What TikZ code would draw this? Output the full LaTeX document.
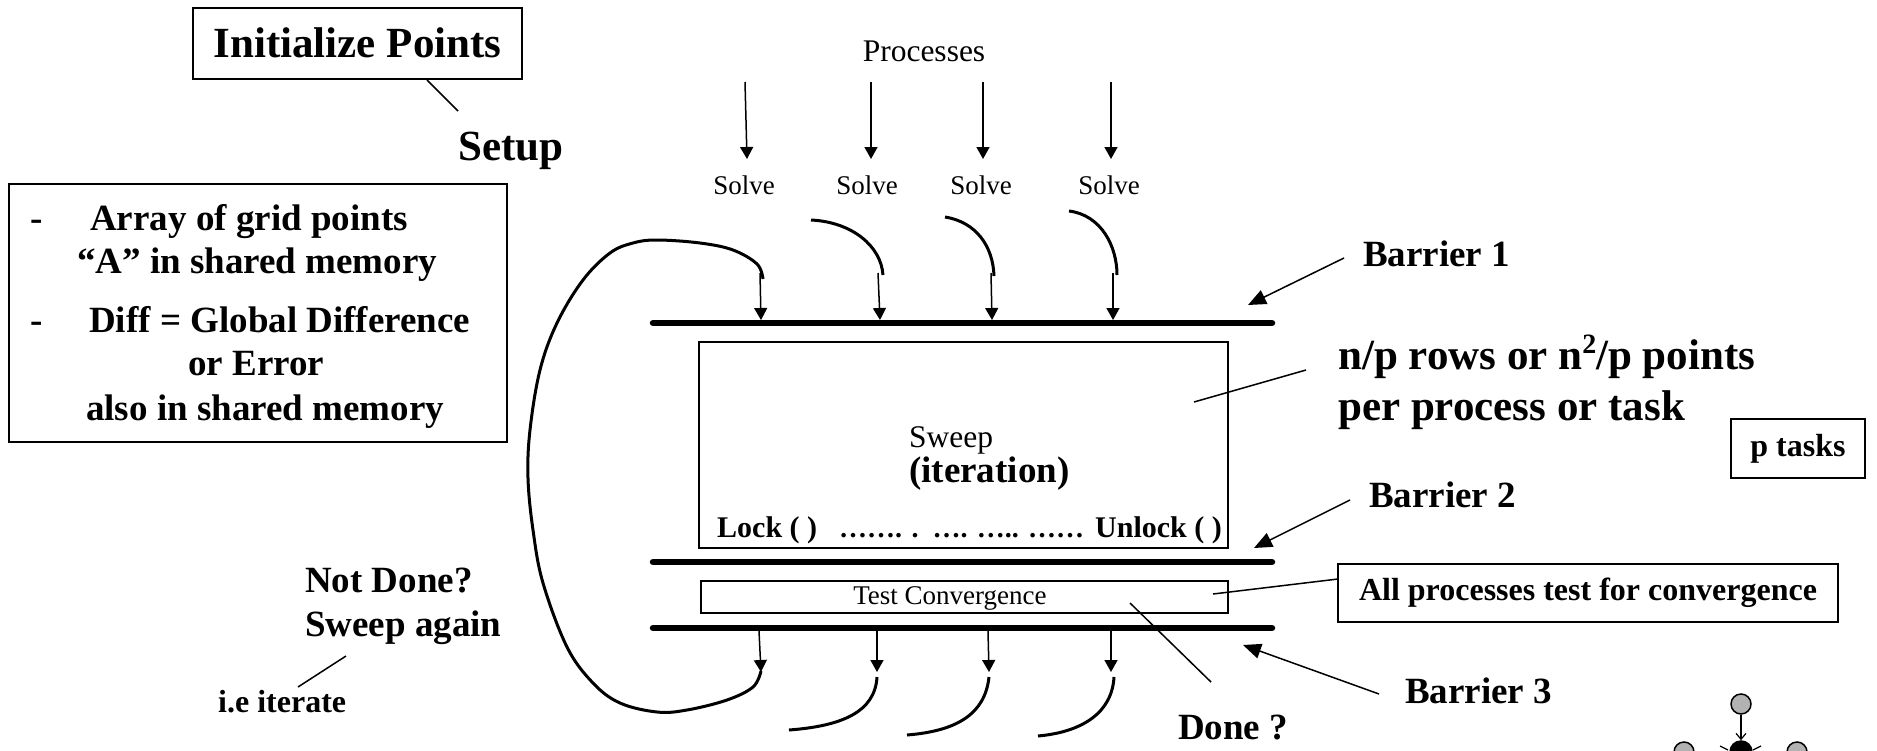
\documentclass[tikz,border=0pt]{standalone}
\usepackage{fontspec}
\setmainfont{Liberation Serif}
\usetikzlibrary{arrows.meta}
\definecolor{nodegray}{RGB}{178,178,178}
\begin{document}
\begin{tikzpicture}[x=1pt,y=-1pt,
  bigb/.style={font=\fontsize{43pt}{50pt}\selectfont\bfseries, inner sep=0pt},
  medb/.style={font=\fontsize{37pt}{44pt}\selectfont\bfseries, inner sep=0pt},
  smb/.style={font=\fontsize{32pt}{38pt}\selectfont\bfseries, inner sep=0pt},
  lockb/.style={font=\fontsize{30pt}{36pt}\selectfont\bfseries, inner sep=0pt},
  dotsb/.style={font=\fontsize{28pt}{34pt}\selectfont\bfseries, inner sep=0pt},
  regl/.style={font=\fontsize{31.5pt}{36pt}\selectfont, inner sep=0pt},
  regs/.style={font=\fontsize{27pt}{32pt}\selectfont, inner sep=0pt},
  boxd/.style={draw, line width=1.6pt, inner sep=0pt},
  thinl/.style={line width=1.5pt},
  arr/.style={line width=1.5pt, -{Triangle[length=12pt,width=13pt]}},
  bigarr/.style={line width=1.5pt, -{Triangle[length=18pt,width=15pt]}},
  hookl/.style={line width=3pt},
  barrier/.style={line width=6.5pt, line cap=round},
  dot/.style={circle, draw, line width=1.5pt, minimum size=20pt, inner sep=0pt}
]
\useasboundingbox (0,0) rectangle (1877,750);
\clip (0,0) rectangle (1877,750);

% ---------- top left ----------
\node[boxd, bigb, minimum width=329pt, minimum height=71pt, text height=28.5pt, text depth=0pt] (init) at (357.5,43.5) {Initialize Points};
\node[bigb, anchor=base west] (setup) at (458,160) {Setup};
\coordinate (initl) at (427,80);
\coordinate (setupl) at (458,111);
\draw[thinl] (initl) -- (setupl);

\node[boxd, minimum width=498pt, minimum height=258pt] (mem) at (258,313) {};
\node[medb, anchor=base west] (d1) at (30,230) {-};
\node[medb, anchor=base west] (m1) at (90,230) {Array of grid points};
\node[medb, anchor=base west] (m2) at (77,273) {“A” in shared memory};
\node[medb, anchor=base west] (d2) at (30,332) {-};
\node[medb, anchor=base west] (m3) at (89,332) {Diff = Global Difference};
\node[medb, anchor=base west] (m4) at (188,375) {or Error};
\node[medb, anchor=base west] (m5) at (86,420) {also in shared memory};

% ---------- processes ----------
\node[regl, anchor=base] (proc) at (924,61) {Processes};
\node[regs, anchor=base] (s1) at (744,194) {Solve};
\node[regs, anchor=base] (s2) at (867,194) {Solve};
\node[regs, anchor=base] (s3) at (981,194) {Solve};
\node[regs, anchor=base] (s4) at (1109,194) {Solve};
\coordinate (pa1) at (745,82);  \coordinate (pb1) at (747,159);
\coordinate (pa2) at (871,82);  \coordinate (pb2) at (871,159);
\coordinate (pa3) at (983,82);  \coordinate (pb3) at (983,159);
\coordinate (pa4) at (1111,82); \coordinate (pb4) at (1111,159);
\foreach \i in {1,2,3,4} \draw[arr] (pa\i) -- (pb\i);

% ---------- barriers ----------
\coordinate (b1l) at (653,323); \coordinate (b1r) at (1272,323);
\coordinate (b2l) at (653,562); \coordinate (b2r) at (1272,562);
\coordinate (b3l) at (653,628); \coordinate (b3r) at (1272,628);
\draw[barrier] (b1l) -- (b1r);
\draw[barrier] (b2l) -- (b2r);
\draw[barrier] (b3l) -- (b3r);

% hooks above barrier 1
\draw[hookl] (811,220) .. controls (852,222) and (881,246) .. (883,275);
\draw[hookl] (945,217) .. controls (976,222) and (993,246) .. (994,276);
\draw[hookl] (1069,211) .. controls (1101,215) and (1117,246) .. (1117,275);
% big loop
\draw[hookl] plot[smooth, tension=0.6] coordinates {(763,279) (757,264) (733,250) (700,243) (657,240) (633,243) (610,253) (583,280) (557,323) (540,370) (530,430) (528,478) (533,530) (543,583) (567,647) (593,683) (620,703) (657,712) (687,710) (727,700) (753,687) (761,671)};

\coordinate (ha1) at (760,273);  \coordinate (hb1) at (761,320);
\coordinate (ha2) at (878,273);  \coordinate (hb2) at (880,320);
\coordinate (ha3) at (991,273);  \coordinate (hb3) at (992,320);
\coordinate (ha4) at (1113,273); \coordinate (hb4) at (1113,320);
\foreach \i in {1,2,3,4} \draw[arr] (ha\i) -- (hb\i);

% ---------- sweep box ----------
\node[boxd, minimum width=529pt, minimum height=206pt] (sweepbox) at (963.5,445) {};
\node[regl, anchor=base west] (sweep) at (909,447) {Sweep};
\node[medb, anchor=base west] (iter) at (909,482) {(iteration)};
\node[lockb, anchor=base west] (lock) at (717,537) {Lock ( )};
\node[dotsb, anchor=base west] (dots) at (839,537) {……. .\hspace{14pt}…. ….. ……};
\node[lockb, anchor=base west] (unlock) at (1095,537) {Unlock ( )};

% ---------- test convergence ----------
\node[boxd, minimum width=527pt, minimum height=32pt] (testbox) at (964.5,597) {};
\node[regs, anchor=base] (test) at (950,604) {Test Convergence};

% arrows below barrier 3
\coordinate (la1) at (759,631);  \coordinate (lb1) at (761,672);
\coordinate (la2) at (877,631);  \coordinate (lb2) at (877,672);
\coordinate (la3) at (988,631);  \coordinate (lb3) at (989,672);
\coordinate (la4) at (1111,631); \coordinate (lb4) at (1111,672);
\foreach \i in {1,2,3,4} \draw[arr] (la\i) -- (lb\i);
% hooks below
\draw[hookl] (877,677) .. controls (875,712) and (842,726) .. (789,730);
\draw[hookl] (989,677) .. controls (985,714) and (957,731) .. (907,735);
\draw[hookl] (1114,677) .. controls (1112,713) and (1082,732) .. (1038,736);

% ---------- right side ----------
\node[medb, anchor=base west] (bar1) at (1363,266) {Barrier 1};
\node[medb, anchor=base west] (bar2) at (1369,507) {Barrier 2};
\node[medb, anchor=base west] (bar3) at (1405,703) {Barrier 3};
\coordinate (ba1) at (1344,258); \coordinate (bt1) at (1248,305);
\coordinate (ba2) at (1350,500); \coordinate (bt2) at (1254,548);
\coordinate (ba3) at (1379,694); \coordinate (bt3) at (1243,645);
\draw[bigarr] (ba1) -- (bt1);
\draw[bigarr] (ba2) -- (bt2);
\draw[bigarr] (ba3) -- (bt3);

\node[bigb, anchor=base west] (np1) at (1338,369) {n/p rows or n\raisebox{0.36em}{\fontsize{28pt}{28pt}\selectfont 2}/p points};
\node[bigb, anchor=base west] (np2) at (1338,420) {per process or task};
\coordinate (npa) at (1306,370); \coordinate (npb) at (1194,402);
\draw[thinl] (npa) -- (npb);

\node[boxd, smb, minimum width=134pt, minimum height=59pt] (ptasks) at (1798,448.5) {p tasks};

\node[boxd, smb, minimum width=500pt, minimum height=58pt] (allp) at (1588,593) {All processes test for convergence};
\coordinate (alla) at (1338,579); \coordinate (allb) at (1213,594);
\draw[thinl] (alla) -- (allb);

\node[medb, anchor=base west] (done) at (1178,739) {Done ?};
\coordinate (donea) at (1211,682); \coordinate (doneb) at (1130,603);
\draw[thinl] (donea) -- (doneb);

% ---------- bottom left ----------
\node[medb, anchor=base west] (notdone) at (305,592) {Not Done?};
\node[medb, anchor=base west] (again) at (305,636) {Sweep again};
\node[smb, anchor=base west] (ie) at (218,712) {i.e iterate};
\coordinate (iea) at (346,656); \coordinate (ieb) at (298,687);
\draw[thinl] (iea) -- (ieb);

% ---------- icon ----------
\node[dot, fill=nodegray] (gtop) at (1741,704) {};
\node[dot, fill=black, minimum size=22pt] (gmid) at (1741,752) {};
\node[dot, fill=nodegray] (gleft) at (1684,752) {};
\node[dot, fill=nodegray] (gright) at (1797,752) {};
\draw[line width=1.2pt, -{Straight Barb[length=6pt,width=10pt]}] (gtop) -- (gmid);
\coordinate (ta) at (1720,746); \coordinate (tb) at (1728,750);
\coordinate (tc) at (1761,746); \coordinate (td) at (1753,750);
\draw[line width=1.2pt] (ta) -- (tb);
\draw[line width=1.2pt] (tc) -- (td);
\end{tikzpicture}
\end{document}
